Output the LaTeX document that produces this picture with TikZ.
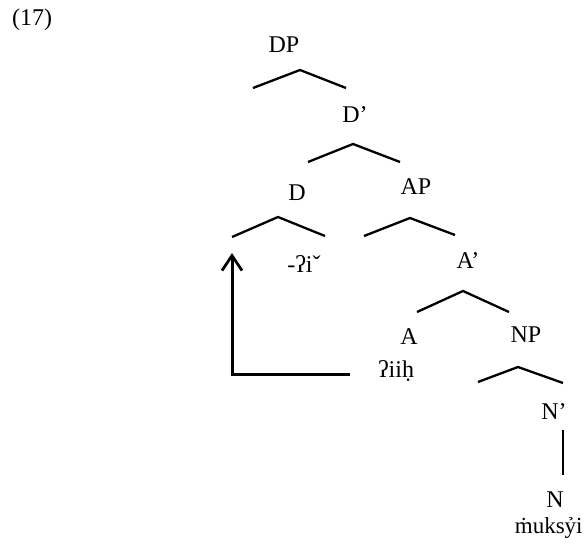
\documentclass[tikz,border=0pt]{standalone}
\usepackage{fontspec}
\setmainfont{Liberation Serif}
\usepackage{tikz}
\usetikzlibrary{arrows.meta}
\tikzstyle{cat}=[inner sep=0pt,font=\fontsize{12}{14}\selectfont]
\tikzstyle{branch}=[line width=1.15pt]
\tikzstyle{move}=[line width=1.5pt,-{Straight Barb[length=7.5pt,width=10pt,line width=1.4pt]}]
\newcommand{\pxunit}{0.5pt}

\begin{document}
\begin{tikzpicture}[x=\pxunit,y=-\pxunit]
    \useasboundingbox (0,0) rectangle (584,552);
    \node[cat] (ex) at (32,20) {(17)};
    \node[cat] (DP) at (284,45) {DP};
    \node[cat] (Dbar) at (355,115) {D’};
    \node[cat] (D) at (297,193) {D};
    \node[cat] (AP) at (416,187) {AP};
    \node[cat] (suf) at (304,264) {-ʔiˇ};
    \node[cat] (Abar) at (468,261) {A’};
    \node[cat] (A) at (409,337) {A};
    \node[cat] (NP) at (526,335) {NP};
    \node[cat] (iih) at (396,371) {ʔiiḥ};
    \node[cat] (Nbar) at (554,412) {N’};
    \node[cat] (N) at (555,500) {N};
    \node[cat,anchor=east,font=\fontsize{11.5}{13}\selectfont] (word) at (583,528) {ṁuksỷi};
%   roofs
    \coordinate (DPt) at (300,70);
    \coordinate (DPl) at (253,88);
    \coordinate (DPr) at (346,88);
    \coordinate (Dbt) at (353,144);
    \coordinate (Dbl) at (308,162);
    \coordinate (Dbr) at (400,162);
    \coordinate (Dt) at (278,217);
    \coordinate (Dl) at (232,237);
    \coordinate (Dr) at (325,236);
    \coordinate (APt) at (410,218);
    \coordinate (APl) at (364,236);
    \coordinate (APr) at (455,235);
    \coordinate (Abt) at (463,291);
    \coordinate (Abl) at (417,312);
    \coordinate (Abr) at (509,312);
    \coordinate (NPt) at (518,367);
    \coordinate (NPl) at (478,382);
    \coordinate (NPr) at (563,383);
    \coordinate (Nbt) at (563,430);
    \coordinate (Nbb) at (563,475);
    \draw[branch] (DPl) -- (DPt) -- (DPr);
    \draw[branch] (Dbl) -- (Dbt) -- (Dbr);
    \draw[branch] (Dl) -- (Dt) -- (Dr);
    \draw[branch] (APl) -- (APt) -- (APr);
    \draw[branch] (Abl) -- (Abt) -- (Abr);
    \draw[branch] (NPl) -- (NPt) -- (NPr);
    \draw[branch] (Nbt) -- (Nbb);
%   head movement
    \coordinate (mvs) at (350,374);
    \coordinate (mvc) at (232,374);
    \coordinate (mve) at (232,253);
    \draw[move] (mvs) -- (mvc) -- (mve);
\end{tikzpicture}
\end{document}
